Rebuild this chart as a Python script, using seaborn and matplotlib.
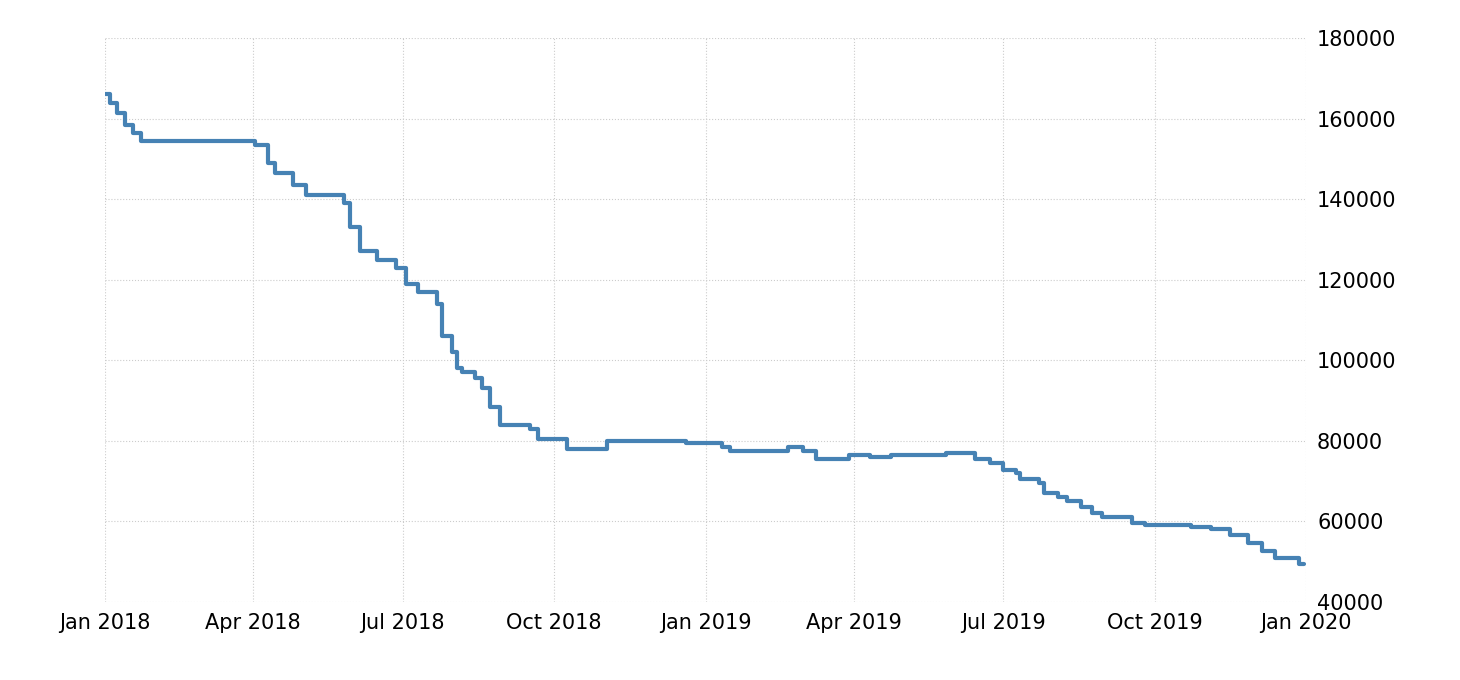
import pandas as pd
import matplotlib.pyplot as plt
import matplotlib.dates as mdates
from matplotlib.ticker import MultipleLocator
import seaborn as sns

dates = ["2018-01-01", "2018-01-04", "2018-01-08", "2018-01-13", "2018-01-18", "2018-01-23",
         "2018-04-02", "2018-04-10", "2018-04-14", "2018-04-25", "2018-05-03", "2018-05-26",
         "2018-05-30", "2018-06-05", "2018-06-15", "2018-06-27", "2018-07-03", "2018-07-10",
         "2018-07-22", "2018-07-25", "2018-07-31", "2018-08-03", "2018-08-06", "2018-08-14",
         "2018-08-18", "2018-08-23", "2018-08-29", "2018-09-16", "2018-09-21", "2018-10-09",
         "2018-11-02", "2018-12-20", "2019-01-11", "2019-01-16", "2019-02-20", "2019-03-01",
         "2019-03-09", "2019-03-29", "2019-04-11", "2019-04-24", "2019-05-27", "2019-06-14",
         "2019-06-23", "2019-07-01", "2019-07-09", "2019-07-11", "2019-07-23", "2019-07-26",
         "2019-08-03", "2019-08-09", "2019-08-17", "2019-08-24", "2019-08-30", "2019-09-17",
         "2019-09-25", "2019-10-23", "2019-11-04", "2019-11-16", "2019-11-27", "2019-12-05",
         "2019-12-13", "2019-12-28", "2019-12-31"]
values = [166000, 164000, 161500, 158500, 156500, 154500,
          153500, 149000, 146500, 143500, 141000, 139000,
          133000, 127000, 125000, 123000, 119000, 117000,
          114000, 106000, 102000, 98000, 97000, 95500,
          93000, 88500, 84000, 83000, 80500, 78000,
          80000, 79500, 78500, 77500, 78500, 77500,
          75500, 76500, 76000, 76500, 77000, 75500,
          74500, 72800, 72000, 70500, 69500, 67000,
          66000, 65000, 63500, 62000, 61000, 59500,
          59000, 58500, 58000, 56500, 54500, 52500,
          51000, 49500, 49500]

df = pd.DataFrame({"date": pd.to_datetime(dates), "value": values})

sns.set_style("white")
fig = plt.figure(figsize=(14.6, 6.8), dpi=100)
ax = fig.add_axes([0.072, 0.115, 0.8225, 0.829])
sns.lineplot(data=df, x="date", y="value", ax=ax, color="#4682B4", linewidth=3,
             drawstyle="steps-post")

ax.set_xlim(pd.Timestamp("2018-01-01"), pd.Timestamp("2020-01-01"))
ax.set_ylim(40000, 180000)
ax.yaxis.set_major_locator(MultipleLocator(20000))
ax.xaxis.set_major_locator(mdates.MonthLocator(bymonth=[1, 4, 7, 10]))
ax.xaxis.set_major_formatter(mdates.DateFormatter("%b %Y"))
ax.yaxis.tick_right()
ax.grid(True, linestyle=":", color="#cccccc", linewidth=0.8)
for s in ax.spines.values():
    s.set_visible(False)
ax.tick_params(axis="both", length=0, labelsize=15, pad=8, labelcolor="black")
ax.set_xlabel("")
ax.set_ylabel("")

fig.savefig("out.png")
